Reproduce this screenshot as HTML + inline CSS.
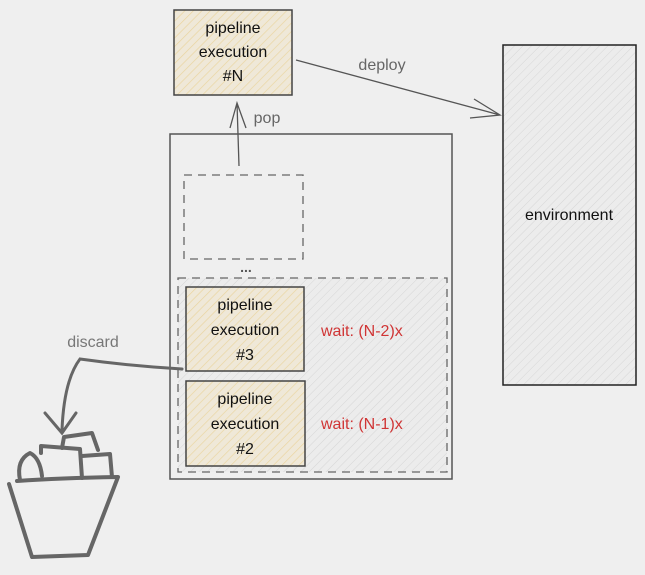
<!DOCTYPE html>
<html><head><style>
html,body{margin:0;padding:0;background:#efefef;}
svg{display:block}
text{font-family:"Liberation Sans",sans-serif;}
</style></head><body>
<svg width="645" height="575" viewBox="0 0 645 575" xmlns="http://www.w3.org/2000/svg">
<defs>
<pattern id="hy" width="6" height="6" patternUnits="userSpaceOnUse" patternTransform="rotate(45)">
<rect width="6" height="6" fill="#efe8d8"/><line x1="0" y1="0" x2="0" y2="6" stroke="#ead49e" stroke-width="1.3"/></pattern>
<pattern id="hg" width="6" height="6" patternUnits="userSpaceOnUse" patternTransform="rotate(45)">
<rect width="6" height="6" fill="#ececec"/><line x1="0" y1="0" x2="0" y2="6" stroke="#d6d6d6" stroke-width="1"/></pattern>
</defs>
<rect width="645" height="575" fill="#efefef"/>
<rect x="503" y="45" width="133" height="340" fill="url(#hg)" stroke="#222" stroke-width="1.5"/>
<text x="569" y="220" font-size="16" text-anchor="middle" fill="#111">environment</text>
<rect x="174" y="10" width="118" height="85" fill="url(#hy)" stroke="#444" stroke-width="1.5"/>
<g font-size="16" text-anchor="middle" fill="#111">
<text x="233" y="33">pipeline</text><text x="233" y="57">execution</text><text x="233" y="81">#N</text></g>
<path d="M296 60 L500 115 M474 99 L500 115 L470 118" stroke="#555" stroke-width="1.3" fill="none"/>
<text x="382" y="70" font-size="16" text-anchor="middle" fill="#666">deploy</text>
<path d="M239 166 L237 103 M230 128 L237 103 L246 128" stroke="#555" stroke-width="1.3" fill="none"/>
<text x="267" y="123" font-size="16" text-anchor="middle" fill="#666">pop</text>
<rect x="170" y="134" width="282" height="345" fill="none" stroke="#555" stroke-width="1.5"/>
<rect x="184" y="175" width="119" height="84" fill="none" stroke="#666" stroke-width="1.3" stroke-dasharray="8,6"/>
<text x="246" y="272" font-size="14" font-weight="bold" text-anchor="middle" fill="#555">...</text>
<rect x="178" y="278" width="269" height="194" fill="url(#hg)" stroke="#666" stroke-width="1.3" stroke-dasharray="8,6"/>
<rect x="186" y="287" width="118" height="84" fill="url(#hy)" stroke="#444" stroke-width="1.5"/>
<g font-size="16" text-anchor="middle" fill="#111">
<text x="245" y="310">pipeline</text><text x="245" y="335">execution</text><text x="245" y="360">#3</text></g>
<rect x="186" y="381" width="119" height="85" fill="url(#hy)" stroke="#444" stroke-width="1.5"/>
<g font-size="16" text-anchor="middle" fill="#111">
<text x="245" y="404">pipeline</text><text x="245" y="429">execution</text><text x="245" y="454">#2</text></g>
<text x="321" y="336" font-size="16" fill="#d03535">wait: (N-2)x</text>
<text x="321" y="429" font-size="16" fill="#d03535">wait: (N-1)x</text>
<text x="93" y="347" font-size="16" text-anchor="middle" fill="#777">discard</text>
<path d="M182 369 Q130 366 80 359 Q64 380 62 430 M45 413 L62 433 L76 413" stroke="#666" stroke-width="3" fill="none" stroke-linecap="round"/>
<g stroke="#666" stroke-width="4" fill="none" stroke-linecap="round" stroke-linejoin="round">
<path d="M9 484 L32 557 L88 555 L118 477 Q60 478 17 481"/>
<path d="M20 480 Q16 460 30 453 Q40 458 42 476"/>
<path d="M41 453 L41 446 L80 449 L82 478"/>
<path d="M62 448 L64 437 L92 433 L98 450"/>
<path d="M82 456 L110 454 L112 477"/>
</g>
</svg>
</body></html>
